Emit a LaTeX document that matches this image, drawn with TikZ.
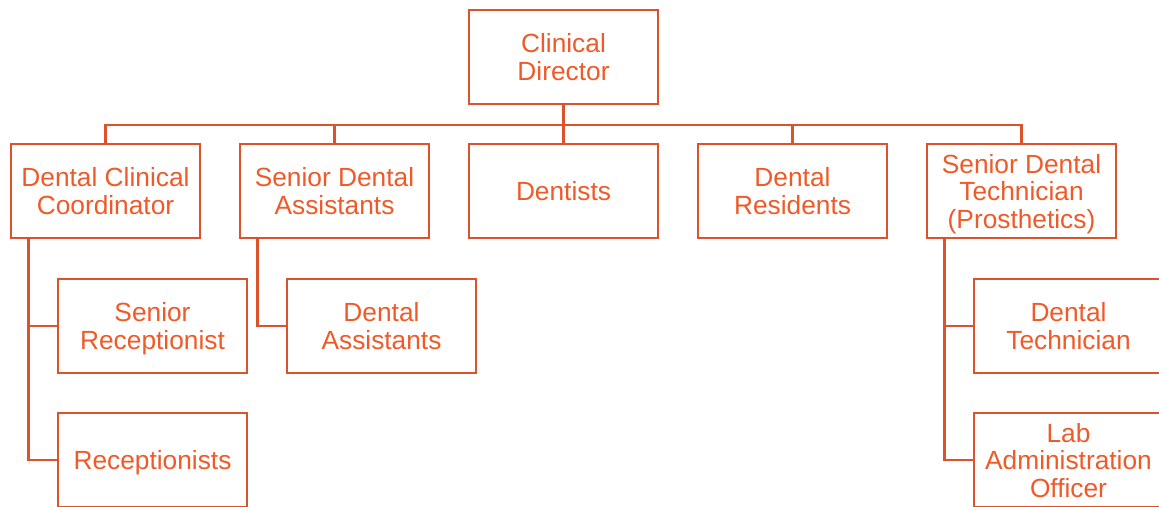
\documentclass[tikz,border=0pt]{standalone}
\usepackage{fontspec}
\setmainfont{Liberation Sans}
\definecolor{lineC}{RGB}{220,82,42}
\definecolor{textC}{RGB}{240,90,40}
\begin{document}
\begin{tikzpicture}[x=1pt,y=-1pt,
  box/.style={draw=lineC,line width=2.6pt,fill=white,minimum width=189pt,minimum height=94pt,inner sep=0pt,
    text depth=0pt,align=center,text=textC,font=\fontsize{26.3pt}{27.5pt}\selectfont},
  conn/.style={draw=lineC,line width=2.6pt}]
\useasboundingbox (0,0) rectangle (1159,506);
\clip (0,0) rectangle (1159,506);
\coordinate (bus) at (563.5,125);
\node[box] (cd) at (563.5,57) {Clinical\\Director};
\node[box] (dcc) at (105.5,191) {Dental Clinical\\Coordinator};
\node[box] (sda) at (334.5,191) {Senior Dental\\Assistants};
\node[box] (den) at (563.5,191) {Dentists};
\node[box] (dr) at (792.5,191) {Dental\\Residents};
\node[box] (sdt) at (1021.5,191) {Senior Dental\\Technician\\(Prosthetics)};
\node[box] (sr) at (152.5,326) {Senior\\Receptionist};
\node[box] (rec) at (152.5,460) {Receptionists};
\node[box] (da) at (381.5,326) {Dental\\Assistants};
\node[box] (dt) at (1068.5,326) {Dental\\Technician};
\node[box] (lao) at (1068.5,460) {Lab\\Administration\\Officer};
\coordinate (dccl) at ([xshift=19pt]dcc.south west);
\coordinate (sdal) at ([xshift=19pt]sda.south west);
\coordinate (sdtl) at ([xshift=19pt]sdt.south west);
\draw[conn] (cd.south) -- (bus);
\draw[conn] (bus) -| (dcc.north);
\draw[conn] (bus) -| (sda.north);
\draw[conn] (bus) -- (den.north);
\draw[conn] (bus) -| (dr.north);
\draw[conn] (bus) -| (sdt.north);
\draw[conn] (dccl) |- (sr.west);
\draw[conn] (dccl) |- (rec.west);
\draw[conn] (sdal) |- (da.west);
\draw[conn] (sdtl) |- (dt.west);
\draw[conn] (sdtl) |- (lao.west);
\end{tikzpicture}
\end{document}
